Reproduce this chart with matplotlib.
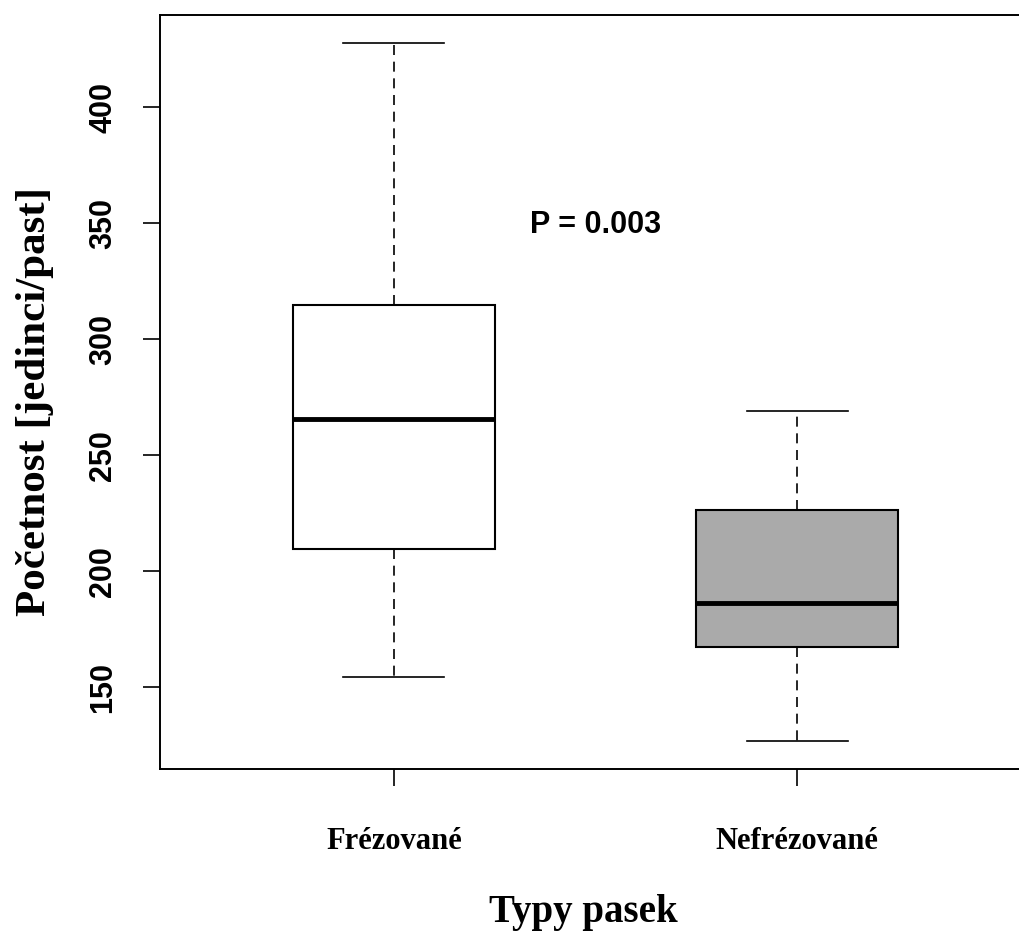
import matplotlib
matplotlib.use("Agg")
import matplotlib.pyplot as plt

# hodnoty
skupiny = ["Frézované", "Nefrézované"]
minima = [154.3, 126.7]
q1 = [209.5, 167.2]
mediany = [265.5, 186.2]
q3 = [314.7, 226.3]
maxima = [427.6, 269.0]
barvy = ["white", "#AAAAAA"]
yticky = [150, 200, 250, 300, 350, 400]

stats = []
for i in range(len(skupiny)):
    stats.append({"label": skupiny[i], "whislo": minima[i], "q1": q1[i],
                  "med": mediany[i], "q3": q3[i], "whishi": maxima[i], "fliers": []})

fig = plt.figure(figsize=(10.19, 9.31), dpi=100)
ax = fig.add_axes([160 / 1019, 1 - 769 / 931, 871 / 1019, 754 / 931])

bp = ax.bxp(stats, positions=[1, 2], widths=0.5, patch_artist=True, showfliers=False,
            boxprops=dict(linewidth=1.5, edgecolor="black"),
            medianprops=dict(color="black", linewidth=3.5),
            whiskerprops=dict(color="black", linewidth=1.2, linestyle=(0, (6, 4))),
            capprops=dict(color="black", linewidth=1.2),
            capwidths=0.25)
for patch, c in zip(bp["boxes"], barvy):
    patch.set_facecolor(c)

ax.set_xlim(0.42, 2.58)
ax.set_ylim(114.7, 439.7)
ax.set_yticks(yticky)
ax.set_yticklabels([str(v) for v in yticky], rotation=90, va="center",
                   family="Liberation Sans", fontweight="bold", fontsize=22)
ax.set_xticks([1, 2])
ax.set_xticklabels(skupiny, family="Liberation Serif", fontweight="bold", fontsize=22)
ax.tick_params(axis="y", length=12, width=1.2, pad=18)
ax.tick_params(axis="x", length=12, width=1.2, pad=30)
for s in ax.spines.values():
    s.set_linewidth(1.4)

ax.set_ylabel("Početnost [jedinci/past]", family="Liberation Serif", fontweight="bold",
              fontsize=31, labelpad=25)
ax.yaxis.label.set_y(0.488)
ax.set_xlabel("Typy pasek", family="Liberation Serif", fontweight="bold",
              fontsize=28, labelpad=27)
ax.xaxis.label.set_x(0.486)

ax.text(1.5, 349, "P = 0.003", ha="center", va="center", family="Liberation Sans",
        fontweight="bold", fontsize=22)

fig.savefig("out.png", dpi=100)
